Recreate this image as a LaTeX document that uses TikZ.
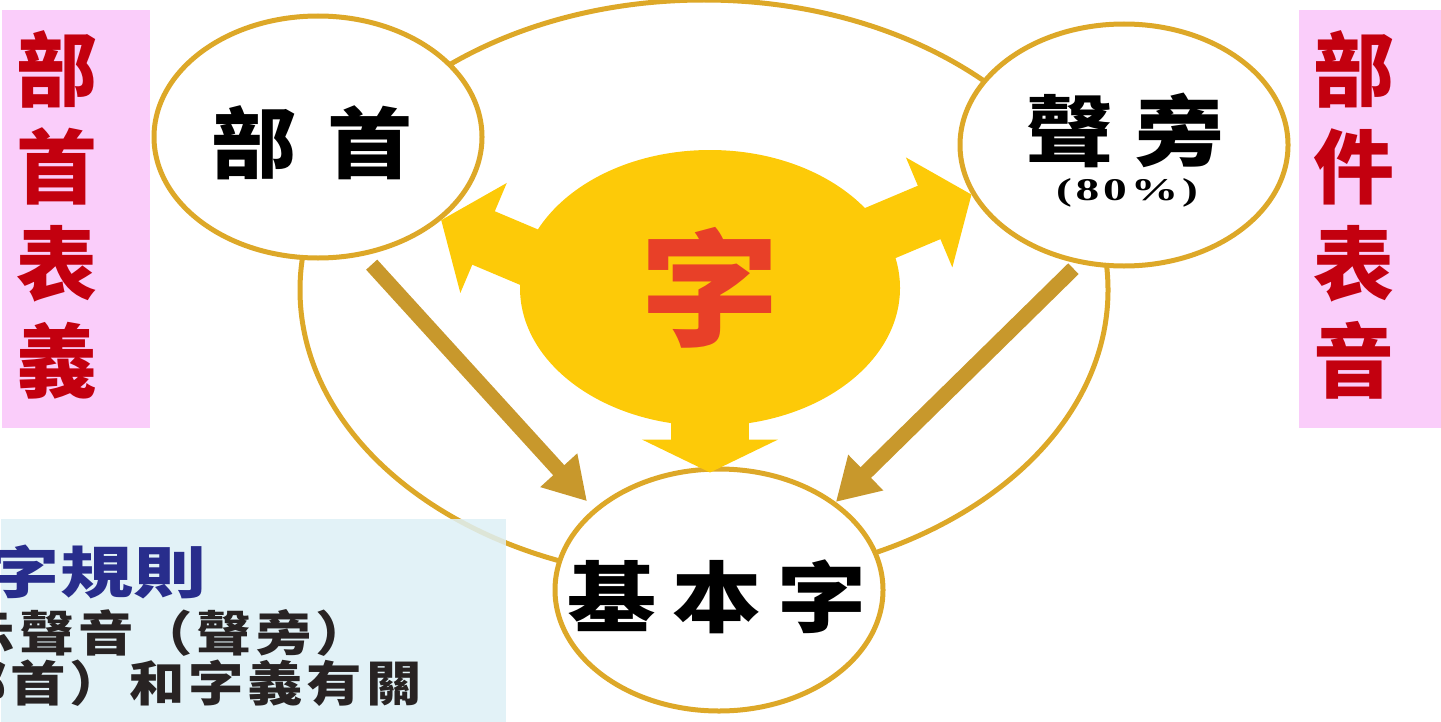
\documentclass[tikz,border=0pt]{standalone}
\usepackage{fontspec}
\usepackage{graphicx}
\usetikzlibrary{shapes.geometric,arrows.meta}
\newfontfamily\cjk{Noto Sans CJK TC}
\newfontfamily\boxcjk{Noto Sans CJK TC}[LetterSpace=7]
\newfontfamily\pctfont{Liberation Serif}[LetterSpace=8]
\definecolor{ringgold}{RGB}{221,168,40}
\definecolor{arrowbrown}{RGB}{200,152,44}
\definecolor{blobyellow}{RGB}{253,202,8}
\definecolor{zired}{RGB}{232,64,40}
\definecolor{sidepink}{RGB}{250,205,250}
\definecolor{sidered}{RGB}{195,0,15}
\definecolor{ruleblue}{RGB}{221,240,246}
\definecolor{rulenavy}{RGB}{40,45,140}
\definecolor{ruleink}{RGB}{40,35,35}
\newcommand{\widetext}[2]{\scalebox{#1}[1]{#2}}
\begin{document}
\begin{tikzpicture}[
		ring/.style={ellipse, draw=ringgold, line width=0.05cm, fill=white, minimum width=3.28cm, minimum height=2.42cm, inner sep=0pt},
		ringtext/.style={text=black, font=\cjk\bfseries\fontsize{22}{22}\selectfont},
		blob/.style={ellipse, fill=blobyellow, minimum width=3.80cm, minimum height=2.76cm, inner sep=0pt},
		yarrow/.style={draw=blobyellow, line width=0.58cm, -{Triangle[length=0.46cm, width=1.17cm]}, shorten <=-0.40cm},
		barrow/.style={draw=arrowbrown, line width=0.15cm, -{Triangle[length=0.42cm, width=0.47cm]}},
		sidebox/.style={rectangle, fill=sidepink, inner sep=0pt},
		sidetext/.style={text=sidered, align=center, inner sep=0pt, font=\cjk\bfseries\fontsize{23}{27.6}\selectfont},
		ruletext/.style={anchor=west, inner sep=0pt, text=ruleink, font=\boxcjk\bfseries\fontsize{13.7}{13.7}\selectfont}
	]
		\useasboundingbox (0,0) rectangle (14.41,7.21);
		\clip (0,0) rectangle (14.41,7.21);
		\node[ellipse, draw=ringgold, line width=0.05cm, minimum width=8.08cm, minimum height=5.80cm] (outer) at (7.04,4.31) {};
		\node[rectangle, fill=ruleblue, fill opacity=0.85, anchor=north west, minimum width=5.05cm, minimum height=2.10cm, inner sep=0pt] (rulebox) at (0.00,2.03) {};
		\node[sidebox, minimum width=1.48cm, minimum height=4.18cm] (yibox) at (0.76,5.02) {};
		\node[sidebox, minimum width=1.43cm, minimum height=4.17cm] (yinbox) at (13.70,5.02) {};
		\node[ring] (bushou) at (3.18,5.84) {};
		\node[ring] (sheng) at (11.24,5.76) {};
		\node[ring] (jiben) at (7.19,1.31) {};
		\node[blob, text=zired, font=\cjk\bfseries\fontsize{36}{36}\selectfont] (zi) at (7.10,4.33) {\widetext{1.1}{字}};
		\draw[yarrow] (zi.170) -- (bushou.-34);
		\draw[yarrow] (zi.18) -- (sheng.198);
		\draw[yarrow, line width=0.78cm, -{Triangle[length=0.33cm, width=1.35cm]}, shorten <=-0.30cm, shorten >=-0.06cm] (zi.south) -- (zi.south |- jiben.north);
		\draw[barrow, shorten <=0.12cm, shorten >=0.10cm] (bushou.-69) -- (jiben.147);
		\draw[barrow, shorten <=0.07cm] (sheng.-111) -- (jiben.37);
		\node[ringtext] (bushoutext) at (3.12,5.78) {\widetext{1.1}{部\hspace{0.29cm}首}};
		\node[ringtext] (shengtext) at (11.25,5.91) {\widetext{1.15}{聲\hspace{0.19cm}旁}};
		\node[ringtext] (jibentext) at (7.17,1.24) {\widetext{1.15}{基\hspace{0.14cm}本\hspace{0.14cm}字}};
		\node[text=black, font=\pctfont\bfseries\fontsize{9}{9}\selectfont] (shengpct) at (11.27,5.28) {\widetext{1.5}{(80\%)}};
		\node[sidetext] (yitext) at (0.57,5.06) {部\\首\\表\\義};
		\node[sidetext] (yintext) at (13.54,5.06) {部\\件\\表\\音};
		\node[ruletext, text=rulenavy, font=\cjk\bfseries\fontsize{16}{16}\selectfont] (ruletitle) at (-1.60,1.49) {\widetext{1.3}{形聲字規則}};
		\node[ruletext] (ruleone) at (-1.00,0.88) {\widetext{1.15}{表示聲音（聲旁）}};
		\node[ruletext] (ruletwo) at (-2.27,0.38) {\widetext{1.15}{形符（部首）和字義有關}};
	\end{tikzpicture}
\end{document}
